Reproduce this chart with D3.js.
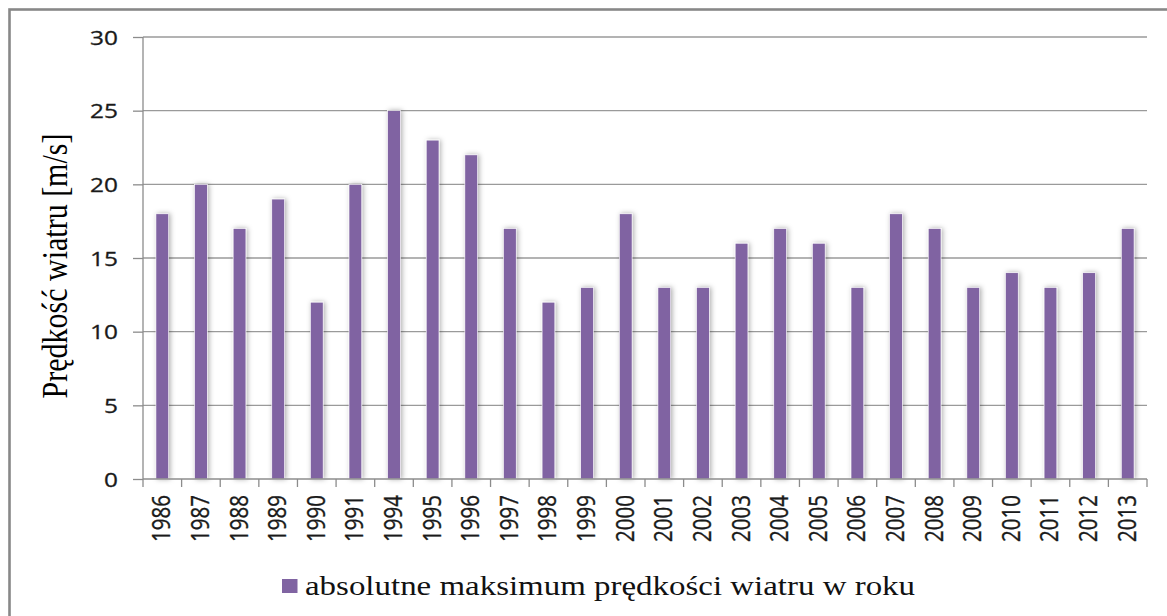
<!DOCTYPE html>
<head>
	<script src="https://d3js.org/d3.v7.min.js"></script>
	<style>
		body { margin: 0; background: #fff; }
		.axis path, .axis line { stroke: #8c8c8c; stroke-width: 1.3; }
	</style>
</head>
<body>
	<script>
		var years = ["1986","1987","1988","1989","1990","1991","1994","1995","1996","1997","1998","1999","2000",
			"2001","2002","2003","2004","2005","2006","2007","2008","2009","2010","2011","2012","2013"];
		var maxWind = [18,20,17,19,12,20,25,23,22,17,12,13,18,13,13,16,17,16,13,18,17,13,14,13,14,17];
		var yTicks = [0,5,10,15,20,25,30];
		var yTitle = "Prędkość wiatru [m/s]";
		var seriesName = "absolutne maksimum prędkości wiatru w roku";

		var width = 1167, height = 616;
		var sx = 1.22; // the picture is a bit wider than tall, stretch text the same way
		var plot = { left: 143, right: 1147, top: 37, bottom: 479 };
		var data = years.map((y, i) => ({ year: y, v: maxWind[i] }));

		var svg = d3.select("body").append("svg")
			.attr("width", width)
			.attr("height", height);

		var defs = svg.append("defs");
		var f = defs.append("filter").attr("id", "shadow")
			.attr("x", "-60%").attr("y", "-10%").attr("width", "220%").attr("height", "120%");
		f.append("feDropShadow").attr("dx", 1.5).attr("dy", 0).attr("stdDeviation", 2.4)
			.attr("flood-color", "#000").attr("flood-opacity", 0.32);

		// outer frame
		svg.append("rect")
			.attr("x", 9.5).attr("y", 9.5)
			.attr("width", width).attr("height", height)
			.attr("fill", "none").attr("stroke", "#888").attr("stroke-width", 2.6);

		// scales
		var x = d3.scaleBand()
			.domain(years)
			.range([plot.left, plot.right])
			.padding(0);
		var y = d3.scaleLinear()
			.domain([0, 30])
			.range([plot.bottom, plot.top]);

		// gridlines
		svg.append("g").selectAll("line")
			.data(yTicks.filter(d => d > 0))
			.enter().append("line")
			.attr("x1", plot.left).attr("x2", plot.right)
			.attr("y1", d => y(d)).attr("y2", d => y(d))
			.attr("stroke", "#9a9a9a").attr("stroke-width", 1.4);

		// bars
		var bw = x.bandwidth() * 0.33;
		svg.append("g").selectAll("rect")
			.data(data)
			.enter().append("rect")
			.attr("x", d => x(d.year) + (x.bandwidth() - bw) / 2)
			.attr("y", d => y(d.v))
			.attr("width", bw)
			.attr("height", d => y(0) - y(d.v))
			.attr("fill", "#8064a2")
			.attr("stroke", "#fff")
			.attr("stroke-width", 0.6)
			.attr("filter", "url(#shadow)");

		// y axis
		var yAxis = d3.axisLeft(y).tickValues(yTicks).tickSize(10).tickPadding(15);
		var gy = svg.append("g").attr("class", "axis")
			.attr("transform", "translate(" + plot.left + ",0)")
			.call(yAxis)
			.attr("font-family", "Open Sans").attr("font-size", 20);
		gy.select(".domain").attr("d", "M0," + plot.top + "V" + plot.bottom);
		gy.selectAll(".tick text")
			.attr("x", null).attr("dy", null)
			.attr("fill", "#1a1a1a").attr("stroke", "#1a1a1a").attr("stroke-width", 0.3)
			.attr("transform", "translate(-25,7) scale(" + sx + ",1)");

		// x axis
		var xAxis = d3.axisBottom(x).tickSize(0).tickPadding(0);
		var gx = svg.append("g").attr("class", "axis")
			.attr("transform", "translate(0," + plot.bottom + ")")
			.call(xAxis)
			.attr("font-family", "Open Sans").attr("font-size", 20.5);
		gx.select(".domain").attr("d", "M" + plot.left + ",0H" + plot.right);
		gx.selectAll(".tick text")
			.attr("y", null).attr("dy", null)
			.attr("text-anchor", "end")
			.attr("fill", "#1a1a1a").attr("stroke", "#1a1a1a").attr("stroke-width", 0.3)
			.attr("transform", "translate(8,16) scale(" + sx + ",1) rotate(-90)");
		gx.selectAll(".boundary")
			.data(years.concat(["end"]))
			.enter().append("line")
			.attr("class", "boundary")
			.attr("x1", (d, i) => plot.left + i * x.step())
			.attr("x2", (d, i) => plot.left + i * x.step())
			.attr("y1", 0).attr("y2", 8);

		// y title
		svg.append("text")
			.attr("transform", "translate(67,266) scale(" + sx + ",1) rotate(-90)")
			.attr("text-anchor", "middle")
			.style("font-family", "Liberation Serif")
			.style("font-size", "30px")
			.attr("fill", "#000")
			.text(yTitle);

		// legend
		var lg = svg.append("g").attr("transform", "translate(282,579)");
		lg.append("rect").attr("width", 15.5).attr("height", 14).attr("fill", "#8064a2");
		lg.append("text")
			.attr("transform", "translate(23,16) scale(" + sx + ",1)")
			.style("font-family", "Liberation Serif")
			.style("font-size", "27px")
			.attr("fill", "#111")
			.text(seriesName);
	</script>
</body>
</html>
